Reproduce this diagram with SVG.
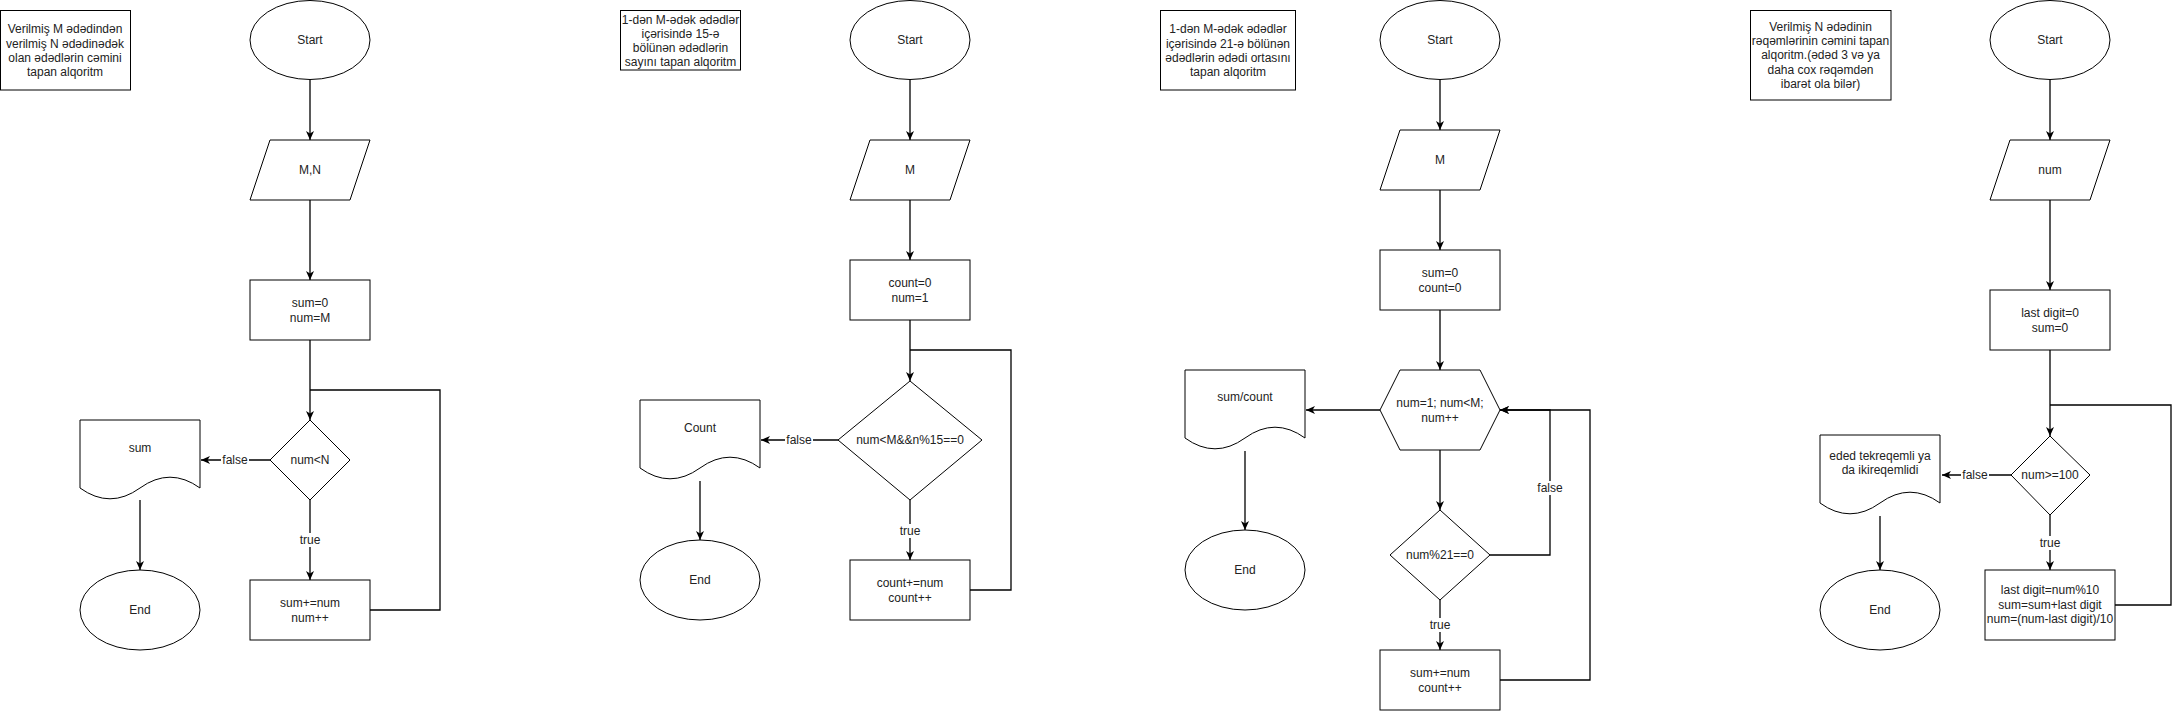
<svg xmlns="http://www.w3.org/2000/svg" width="2180" height="711" viewBox="0 0 2180 711">
<defs>
<marker id="arr" markerUnits="userSpaceOnUse" markerWidth="10" markerHeight="10" refX="9" refY="4" orient="auto">
<path d="M0,0 L9,4 L0,8 L2.5,4 Z" fill="#000"/>
</marker>
<style>
.s{fill:#fff;stroke:#000;stroke-width:1}
.c{fill:none;stroke:#000;stroke-width:1.3}
.a{marker-end:url(#arr)}
text{font-family:"Liberation Sans",Arial,sans-serif;font-size:12px;fill:#222;text-anchor:middle;dominant-baseline:central}
.lb{fill:#fff}
</style>
</defs>
<rect width="2180" height="711" fill="#fff"/>

<g id="connectors">
<!-- D1 -->
<path class="c a" d="M310,80 V140"/>
<path class="c a" d="M310,200 V280"/>
<path class="c a" d="M310,340 V420"/>
<path class="c a" d="M270,460 H201"/>
<path class="c a" d="M140,500 V570"/>
<path class="c a" d="M310,500 V580"/>
<path class="c" d="M370,610 H440 V390 H310"/>
<!-- D2 -->
<path class="c a" d="M910,80 V140"/>
<path class="c a" d="M910,200 V260"/>
<path class="c a" d="M910,320 V381"/>
<path class="c a" d="M838,440 H761"/>
<path class="c a" d="M700,481 V540"/>
<path class="c a" d="M910,500 V560"/>
<path class="c" d="M970,590 H1011 V350 H910"/>
<!-- D3 -->
<path class="c a" d="M1440,80 V130"/>
<path class="c a" d="M1440,190 V250"/>
<path class="c a" d="M1440,310 V370"/>
<path class="c a" d="M1380,410 H1306"/>
<path class="c a" d="M1245,451 V530"/>
<path class="c a" d="M1440,450 V510"/>
<path class="c a" d="M1490,555 H1550 V410 H1500"/>
<path class="c a" d="M1440,600 V650"/>
<path class="c a" d="M1500,680 H1590 V410 H1500"/>
<!-- D4 -->
<path class="c a" d="M2050,80 V140"/>
<path class="c a" d="M2050,200 V290"/>
<path class="c a" d="M2050,350 V436"/>
<path class="c a" d="M2011,475 H1942"/>
<path class="c a" d="M1880,516 V570"/>
<path class="c a" d="M2050,515 V570"/>
<path class="c" d="M2115,605 H2171 V405 H2050"/>
<!-- labels -->
<rect class="lb" x="221" y="453" width="28" height="14"/><text x="235" y="460">false</text>
<rect class="lb" x="298" y="533" width="24" height="14"/><text x="310" y="540">true</text>
<rect class="lb" x="785" y="433" width="28" height="14"/><text x="799" y="440">false</text>
<rect class="lb" x="898" y="524" width="24" height="14"/><text x="910" y="531">true</text>
<rect class="lb" x="1536" y="481" width="28" height="14"/><text x="1550" y="488">false</text>
<rect class="lb" x="1428" y="618" width="24" height="14"/><text x="1440" y="625">true</text>
<rect class="lb" x="1961" y="468" width="28" height="14"/><text x="1975" y="475">false</text>
<rect class="lb" x="2038" y="536" width="24" height="14"/><text x="2050" y="543">true</text>
</g>

<!-- Diagram 1 -->
<g id="d1-title"><rect class="s" x="0.5" y="10.5" width="130" height="79.5"/>
<text x="65" y="29">Verilmiş M ədədindən</text><text x="65" y="43.5">verilmiş N ədədinədək</text><text x="65" y="58">olan ədədlərin cəmini</text><text x="65" y="72">tapan alqoritm</text></g>
<g id="d1-start"><ellipse class="s" cx="310" cy="40" rx="60" ry="39.5"/><text x="310" y="40">Start</text></g>
<g id="d1-input"><path class="s" d="M270,140 H370 L350,200 H250 Z"/><text x="310" y="170">M,N</text></g>
<g id="d1-init"><rect class="s" x="250" y="280" width="120" height="60"/><text x="310" y="303">sum=0</text><text x="310" y="318">num=M</text></g>
<g id="d1-cond"><path class="s" d="M310,420 L350,460 L310,500 L270,460 Z"/><text x="310" y="460">num&lt;N</text></g>
<g id="d1-body"><rect class="s" x="250" y="580" width="120" height="60"/><text x="310" y="603">sum+=num</text><text x="310" y="618">num++</text></g>
<g id="d1-out"><path class="s" d="M80,420 H200 V488 Q170,466.4 140,488 Q110,509.6 80,488 Z"/><text x="140" y="448">sum</text></g>
<g id="d1-end"><ellipse class="s" cx="140" cy="610" rx="60" ry="40"/><text x="140" y="610">End</text></g>

<!-- Diagram 2 -->
<g id="d2-title"><rect class="s" x="620.5" y="10.5" width="120" height="59.5"/>
<text x="680.5" y="19.5">1-dən M-ədək ədədlər</text><text x="680.5" y="34">içərisində 15-ə</text><text x="680.5" y="48">bölünən ədədlərin</text><text x="680.5" y="62">sayını tapan alqoritm</text></g>
<g id="d2-start"><ellipse class="s" cx="910" cy="40" rx="60" ry="39.5"/><text x="910" y="40">Start</text></g>
<g id="d2-input"><path class="s" d="M870,140 H970 L950,200 H850 Z"/><text x="910" y="170">M</text></g>
<g id="d2-init"><rect class="s" x="850" y="260" width="120" height="60"/><text x="910" y="283">count=0</text><text x="910" y="298">num=1</text></g>
<g id="d2-cond"><path class="s" d="M910,381 L982,440 L910,500 L838,440 Z"/><text x="910" y="440">num&lt;M&amp;&amp;n%15==0</text></g>
<g id="d2-body"><rect class="s" x="850" y="560" width="120" height="60"/><text x="910" y="583">count+=num</text><text x="910" y="598">count++</text></g>
<g id="d2-out"><path class="s" d="M640,400 H760 V468 Q730,446.4 700,468 Q670,489.6 640,468 Z"/><text x="700" y="428">Count</text></g>
<g id="d2-end"><ellipse class="s" cx="700" cy="580" rx="60" ry="40"/><text x="700" y="580">End</text></g>

<!-- Diagram 3 -->
<g id="d3-title"><rect class="s" x="1160.5" y="10.5" width="135" height="79.5"/>
<text x="1228" y="29">1-dən M-ədək ədədlər</text><text x="1228" y="43.5">içərisində 21-ə bölünən</text><text x="1228" y="58">ədədlərin ədədi ortasını</text><text x="1228" y="72">tapan alqoritm</text></g>
<g id="d3-start"><ellipse class="s" cx="1440" cy="40" rx="60" ry="39.5"/><text x="1440" y="40">Start</text></g>
<g id="d3-input"><path class="s" d="M1400,130 H1500 L1480,190 H1380 Z"/><text x="1440" y="160">M</text></g>
<g id="d3-init"><rect class="s" x="1380" y="250" width="120" height="60"/><text x="1440" y="273">sum=0</text><text x="1440" y="288">count=0</text></g>
<g id="d3-loop"><path class="s" d="M1400,370 H1480 L1500,410 L1480,450 H1400 L1380,410 Z"/><text x="1440" y="403">num=1; num&lt;M;</text><text x="1440" y="418">num++</text></g>
<g id="d3-cond"><path class="s" d="M1440,510 L1490,555 L1440,600 L1390,555 Z"/><text x="1440" y="555">num%21==0</text></g>
<g id="d3-body"><rect class="s" x="1380" y="650" width="120" height="60"/><text x="1440" y="673">sum+=num</text><text x="1440" y="688">count++</text></g>
<g id="d3-out"><path class="s" d="M1185,370 H1305 V438 Q1275,416.4 1245,438 Q1215,459.6 1185,438 Z"/><text x="1245" y="397">sum/count</text></g>
<g id="d3-end"><ellipse class="s" cx="1245" cy="570" rx="60" ry="40"/><text x="1245" y="570">End</text></g>

<!-- Diagram 4 -->
<g id="d4-title"><rect class="s" x="1750.5" y="10.5" width="140.5" height="89.5"/>
<text x="1820.5" y="27">Verilmiş N ədədinin</text><text x="1820.5" y="41">rəqəmlərinin cəmini tapan</text><text x="1820.5" y="55">alqoritm.(ədəd 3 və ya</text><text x="1820.5" y="70">daha cox rəqəmdən</text><text x="1820.5" y="84">ibarət ola bilər)</text></g>
<g id="d4-start"><ellipse class="s" cx="2050" cy="40" rx="60" ry="39.5"/><text x="2050" y="40">Start</text></g>
<g id="d4-input"><path class="s" d="M2010,140 H2110 L2090,200 H1990 Z"/><text x="2050" y="170">num</text></g>
<g id="d4-init"><rect class="s" x="1990" y="290" width="120" height="60"/><text x="2050" y="313">last digit=0</text><text x="2050" y="328">sum=0</text></g>
<g id="d4-cond"><path class="s" d="M2050,436 L2090,475 L2050,515 L2011,475 Z"/><text x="2050" y="475">num&gt;=100</text></g>
<g id="d4-body"><rect class="s" x="1985" y="570" width="130" height="70"/><text x="2050" y="590">last digit=num%10</text><text x="2050" y="605">sum=sum+last digit</text><text x="2050" y="619">num=(num-last digit)/10</text></g>
<g id="d4-out"><path class="s" d="M1820,435 H1940 V503 Q1910,481.4 1880,503 Q1850,524.6 1820,503 Z"/><text x="1880" y="456">eded tekreqemli ya</text><text x="1880" y="470">da ikireqemlidi</text></g>
<g id="d4-end"><ellipse class="s" cx="1880" cy="610" rx="60" ry="40"/><text x="1880" y="610">End</text></g>
</svg>
